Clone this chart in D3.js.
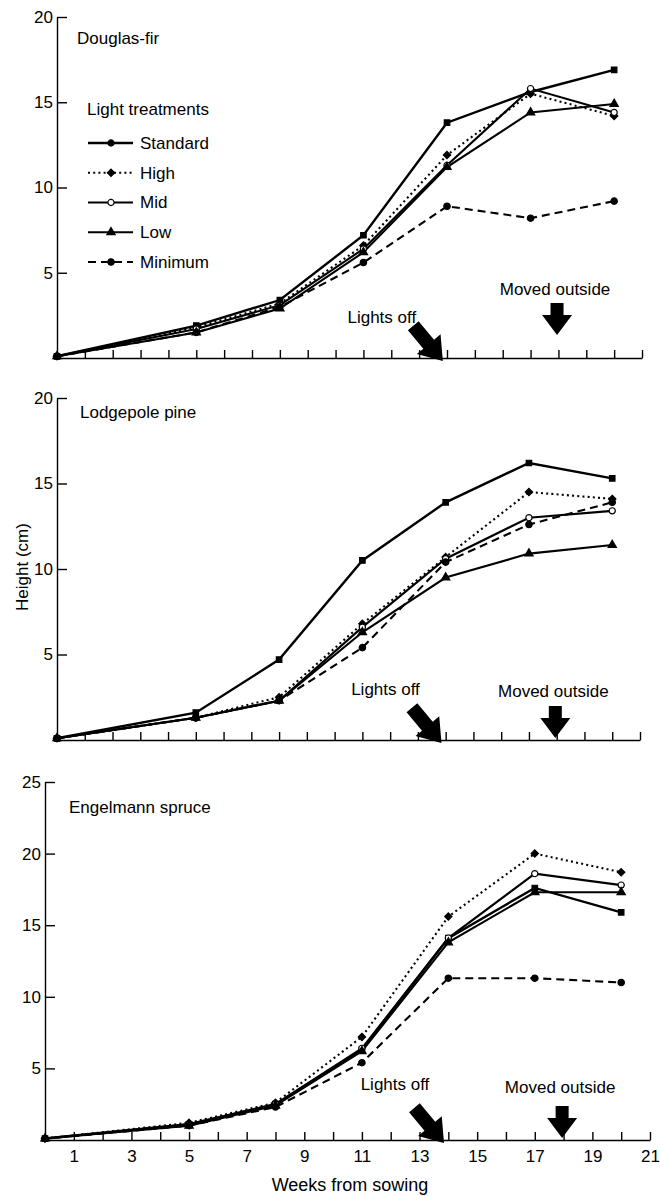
<!DOCTYPE html>
<html>
<head>
<meta charset="utf-8">
<script src="https://cdn.jsdelivr.net/npm/d3@7"></script>
<style>
  body { margin: 0; background: #fff; }
  svg text { font-family: "Liberation Sans", Arial, sans-serif; fill: #000; }
</style>
</head>
<body>
<div id="chart"></div>
<script>
// data: seedling height (cm) by week from sowing
var weeks = [0, 5, 8, 11, 14, 17, 20];
var treatments = ['Standard', 'High', 'Mid', 'Low', 'Minimum'];
var species = ['Douglas-fir', 'Lodgepole pine', 'Engelmann spruce'];

// rows follow the treatments order
var douglasFir = [
  [0.1, 1.9, 3.4, 7.2, 13.8, 15.6, 16.9],
  [0.1, 1.8, 3.2, 6.6, 11.9, 15.5, 14.2],
  [0.1, 1.7, 3.1, 6.4, 11.3, 15.8, 14.4],
  [0.1, 1.5, 2.9, 6.2, 11.2, 14.4, 14.9],
  [0.1, 1.5, 3.0, 5.6, 8.9, 8.2, 9.2]
];
var lodgepolePine = [
  [0.1, 1.6, 4.7, 10.5, 13.9, 16.2, 15.3],
  [0.1, 1.3, 2.5, 6.8, 10.7, 14.5, 14.1],
  [0.1, 1.3, 2.3, 6.6, 10.6, 13.0, 13.4],
  [0.1, 1.3, 2.3, 6.3, 9.5, 10.9, 11.4],
  [0.1, 1.3, 2.3, 5.4, 10.4, 12.6, 13.9]
];
var engelmannSpruce = [
  [0.1, 1.1, 2.5, 6.3, 14.1, 17.6, 15.9],
  [0.1, 1.2, 2.6, 7.2, 15.6, 20.0, 18.7],
  [0.1, 1.1, 2.5, 6.4, 14.1, 18.6, 17.8],
  [0.1, 1.0, 2.4, 6.2, 13.8, 17.3, 17.3],
  [0.1, 1.0, 2.3, 5.4, 11.3, 11.3, 11.0]
];
var speciesData = [douglasFir, lodgepolePine, engelmannSpruce];

var yMax = [20, 20, 25];
var yTicks = [[5, 10, 15, 20], [5, 10, 15, 20], [5, 10, 15, 20, 25]];
var xTicks = d3.range(1, 22);
var lightsOffWeek = 13.85;
var movedOutWeek = 17.95;

// page layout of the three stacked panels
var panels = [
  {left: 57, right: 642, top: 17, bottom: 358, lab: [20, 21], lightsTxt: [-61, 35], movedTxt: 63, movedGap: 23},
  {left: 57, right: 640, top: 398, bottom: 740, lab: [23, 14], lightsTxt: [-56, 45], movedTxt: 43, movedGap: 2},
  {left: 45, right: 650, top: 782, bottom: 1140, lab: [24, 25], lightsTxt: [-49, 50], movedTxt: 47, movedGap: 2}
];

var fs = 17;
var dashes = [null, '2,3.2', null, null, '8,5'];
var symbols = [d3.symbolSquare, d3.symbolDiamond2, d3.symbolCircle, d3.symbolTriangle, d3.symbolCircle];
var symSize = [30, 34, 30, 30, 32];
var fills = ['#000', '#000', '#fff', '#000', '#000'];

var svg = d3.select('#chart').append('svg')
  .attr('width', 660)
  .attr('height', 1197);

// block arrow pointing down, tip at origin
function arrowPath(len, shaftW, headW, headL) {
  return 'M' + (-shaftW / 2) + ',' + (-len) + 'L' + (shaftW / 2) + ',' + (-len) +
    'L' + (shaftW / 2) + ',' + (-headL) + 'L' + (headW / 2) + ',' + (-headL) +
    'L0,0L' + (-headW / 2) + ',' + (-headL) + 'L' + (-shaftW / 2) + ',' + (-headL) + 'Z';
}

panels.forEach(function(p, i) {
  var x = d3.scaleLinear().domain([0, 21]).range([p.left, p.right]);
  var y = d3.scaleLinear().domain([0, yMax[i]]).range([p.bottom, p.top]);
  var g = svg.append('g');

  var xAxis = g.append('g')
    .attr('transform', 'translate(0,' + p.bottom + ')')
    .call(d3.axisBottom(x)
      .tickValues(xTicks)
      .tickSize(-8)
      .tickSizeOuter(0)
      .tickPadding(10)
      .tickFormat(function(d) { return (i === 2 && d % 2 === 1) ? d : ''; }));
  xAxis.attr('font-size', fs).attr('font-family', null);
  xAxis.selectAll('path, line').attr('stroke-width', 1.4);

  var yAxis = g.append('g')
    .attr('transform', 'translate(' + p.left + ',0)')
    .call(d3.axisLeft(y)
      .tickValues(yTicks[i])
      .tickSize(-10)
      .tickSizeOuter(0)
      .tickPadding(4));
  yAxis.attr('font-size', fs).attr('font-family', null);
  yAxis.selectAll('path, line').attr('stroke-width', 1.4);

  g.append('text')
    .attr('x', p.left + p.lab[0])
    .attr('y', p.top + p.lab[1])
    .attr('dy', '0.35em')
    .attr('font-size', fs)
    .text(species[i]);

  var line = d3.line()
    .x(function(d, j) { return x(weeks[j]); })
    .y(function(d) { return y(d); });

  speciesData[i].forEach(function(vals, t) {
    g.append('path')
      .attr('d', line(vals))
      .attr('fill', 'none')
      .attr('stroke', '#000')
      .attr('stroke-width', t === 0 ? 2.4 : 2.1)
      .attr('stroke-dasharray', dashes[t]);
  });
  speciesData[i].forEach(function(vals, t) {
    g.selectAll(null)
      .data(vals)
      .enter()
      .append('path')
      .attr('transform', function(d, j) { return 'translate(' + x(weeks[j]) + ',' + y(d) + ')'; })
      .attr('d', d3.symbol().type(symbols[t]).size(symSize[t]))
      .attr('fill', fills[t])
      .attr('stroke', '#000')
      .attr('stroke-width', 1.2);
  });

  // annotations
  var lx = x(lightsOffWeek);
  g.append('text')
    .attr('x', lx + p.lightsTxt[0])
    .attr('y', p.bottom - p.lightsTxt[1])
    .attr('text-anchor', 'middle')
    .attr('font-size', fs)
    .text('Lights off');
  g.append('path')
    .attr('d', arrowPath(46, 14, 31, 22))
    .attr('transform', 'translate(' + lx + ',' + (p.bottom + 3) + ') rotate(-40)')
    .attr('fill', '#000');

  var mx = x(movedOutWeek);
  g.append('text')
    .attr('x', mx - 2)
    .attr('y', p.bottom - p.movedTxt)
    .attr('text-anchor', 'middle')
    .attr('font-size', fs)
    .text('Moved outside');
  g.append('path')
    .attr('d', arrowPath(32, 13, 30, 20))
    .attr('transform', 'translate(' + mx + ',' + (p.bottom - p.movedGap) + ')')
    .attr('fill', '#000');
});

// legend in the top panel
var legend = svg.append('g');
legend.append('text')
  .attr('x', 87).attr('y', 109).attr('dy', '0.35em')
  .attr('font-size', fs)
  .text('Light treatments');
var legY = d3.scalePoint().domain(treatments).range([143, 262]);
treatments.forEach(function(name, t) {
  var yy = legY(name);
  legend.append('line')
    .attr('x1', 88).attr('x2', 133).attr('y1', yy).attr('y2', yy)
    .attr('stroke', '#000')
    .attr('stroke-width', t === 0 ? 2.4 : 2.1)
    .attr('stroke-dasharray', dashes[t]);
  legend.append('path')
    .attr('transform', 'translate(111,' + yy + ')')
    .attr('d', d3.symbol().type(t === 0 ? d3.symbolCircle : symbols[t]).size(symSize[t]))
    .attr('fill', fills[t])
    .attr('stroke', '#000')
    .attr('stroke-width', 1.2);
  legend.append('text')
    .attr('x', 140).attr('y', yy).attr('dy', '0.35em')
    .attr('font-size', fs)
    .text(name);
});

svg.append('text')
  .attr('transform', 'translate(22,567) rotate(-90)')
  .attr('text-anchor', 'middle')
  .attr('dy', '0.35em')
  .attr('font-size', fs)
  .text('Height (cm)');

svg.append('text')
  .attr('x', 350).attr('y', 1185)
  .attr('text-anchor', 'middle')
  .attr('dy', '0.35em')
  .attr('font-size', 18)
  .text('Weeks from sowing');
</script>
</body>
</html>
